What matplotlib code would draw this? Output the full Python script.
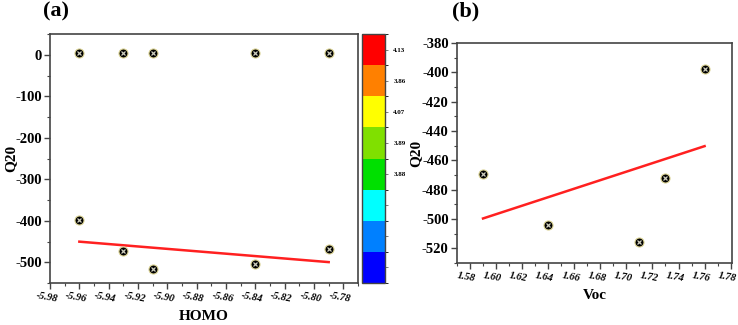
import numpy as np
import matplotlib
matplotlib.use("Agg")
import matplotlib.pyplot as plt
from matplotlib.colors import ListedColormap, BoundaryNorm
from matplotlib.colorbar import ColorbarBase
from matplotlib.transforms import ScaledTranslation

plt.rcParams['font.family'] = ['Liberation Serif', 'DejaVu Serif']
plt.rcParams['font.weight'] = 'bold'
plt.rcParams['axes.unicode_minus'] = False

SERIF = 'Liberation Serif'

# panel (a) data
homo = [-5.96, -5.93, -5.91, -5.84, -5.79]
q20_low = [-398, -472, -516, -504, -469]
q20_high = [4.13, 3.86, 4.07, 3.89, 3.88]
homo_ticks = [-5.98, -5.96, -5.94, -5.92, -5.90, -5.88, -5.86, -5.84, -5.82, -5.80, -5.78]
q20_ticks_a = [-500, -400, -300, -200, -100, 0]

# panel (b) data
voc = [1.59, 1.64, 1.71, 1.73, 1.76]
q20_voc = [-469, -504, -516, -472, -398]
voc_ticks = [1.58, 1.60, 1.62, 1.64, 1.66, 1.68, 1.70, 1.72, 1.74, 1.76, 1.78]
q20_ticks_b = [-520, -500, -480, -460, -440, -420, -400, -380]

# colour bar
bar_colors = ['#0000ff', '#0080ff', '#00ffff', '#00e000', '#80e000', '#ffff00', '#ff8000', '#ff0000']
bar_labels = ['', '', '', '3.88', '3.89', '4.07', '3.86', '4.13']

fig = plt.figure(figsize=(7.38, 3.25), dpi=100)


def draw_points(ax, x, y):
    ax.plot(x, y, 'o', ms=6.5, mfc='black', mec='#d8d090', mew=0.8, zorder=3)
    ax.plot(x, y, 'x', ms=3.0, mec='#d0d0c0', mew=0.9, zorder=4)


def style_axes(ax, xticks, yticks):
    for s in ax.spines.values():
        s.set_color('#444444')
        s.set_linewidth(1.2)
    ax.set_xticks(xticks)
    ax.set_xticklabels([f"{v:.2f}" for v in xticks], fontfamily=SERIF, fontstyle='italic',
                       fontweight='bold', fontsize=7.6, rotation=-10, ha='center')
    ax.set_yticks(yticks)
    ax.set_yticklabels([f"{v:d}" for v in yticks], fontfamily=SERIF, fontweight='bold', fontsize=10.5)
    xt = np.array(xticks)
    yt = np.array(yticks)
    ax.set_xticks(np.arange(xt[0] - (xt[1] - xt[0]) / 2, xt[-1] + (xt[1] - xt[0]), (xt[1] - xt[0]) / 2), minor=True)
    ax.set_yticks(np.arange(yt[0] - (yt[1] - yt[0]), yt[-1] + (yt[1] - yt[0]), (yt[1] - yt[0]) / 2), minor=True)
    ax.tick_params(which='both', direction='out', top=False, right=False, color='#444444')
    ax.tick_params(which='major', length=4, width=1, pad=2)
    ax.tick_params(which='minor', length=2.5, width=0.8)
    # labels sit a little left of their ticks, as in the original
    shift = ScaledTranslation(-2.5 / 72, 0, fig.dpi_scale_trans)
    for lab in ax.get_xticklabels():
        lab.set_transform(lab.get_transform() + shift)


# (a)
ax1 = fig.add_axes([0.0678, 0.1292, 0.4173, 0.766])
xa = np.array(homo)
k, b = np.polyfit(xa, q20_low, 1)
xs = np.array([xa.min(), xa.max()])
ax1.plot(xs, k * xs + b, color='#ff2020', lw=1.8, zorder=2)
draw_points(ax1, homo, q20_high)
draw_points(ax1, homo, q20_low)
style_axes(ax1, homo_ticks, q20_ticks_a)
ax1.set_xlim(-5.98, -5.77)
ax1.set_ylim(-550, 50)
ax1.set_xlabel('HOMO', fontsize=11, fontweight='bold')
ax1.set_ylabel('Q20', fontsize=11, fontweight='bold')
ax1.xaxis.set_label_coords(0.5, -0.108)
ax1.yaxis.set_label_coords(-0.105, 0.5)
fig.text(0.058, 0.995, '(a)', fontsize=16, fontweight='bold', va='top')

# colour bar
cax = fig.add_axes([0.4905, 0.1292, 0.0312, 0.766])
cmap = ListedColormap(bar_colors)
norm = BoundaryNorm(np.arange(len(bar_colors) + 1), cmap.N)
cb = ColorbarBase(cax, cmap=cmap, norm=norm, orientation='vertical')
cb.set_ticks(np.arange(len(bar_colors)) + 0.5)
cb.set_ticklabels(bar_labels)
cb.outline.set_edgecolor('#444444')
cb.outline.set_linewidth(1.0)
cax.tick_params(length=2, width=0.6, labelsize=5, pad=4, color='#666666')

# (b)
ax2 = fig.add_axes([0.6192, 0.1908, 0.3726, 0.677])
xb = np.array(voc)
k2, b2 = np.polyfit(xb, q20_voc, 1)
xs2 = np.array([xb.min(), xb.max()])
ax2.plot(xs2, k2 * xs2 + b2, color='#ff2020', lw=1.8, zorder=2)
draw_points(ax2, voc, q20_voc)
style_axes(ax2, voc_ticks, q20_ticks_b)
ax2.set_xlim(1.57, 1.781)
ax2.set_ylim(-530, -380)
ax2.set_xlabel('Voc', fontsize=11, fontweight='bold')
ax2.set_ylabel('Q20', fontsize=11, fontweight='bold')
ax2.xaxis.set_label_coords(0.5, -0.118)
ax2.yaxis.set_label_coords(-0.124, 0.5)
fig.text(0.612, 0.995, '(b)', fontsize=16, fontweight='bold', va='top')

fig.savefig('out.png', dpi=100)
